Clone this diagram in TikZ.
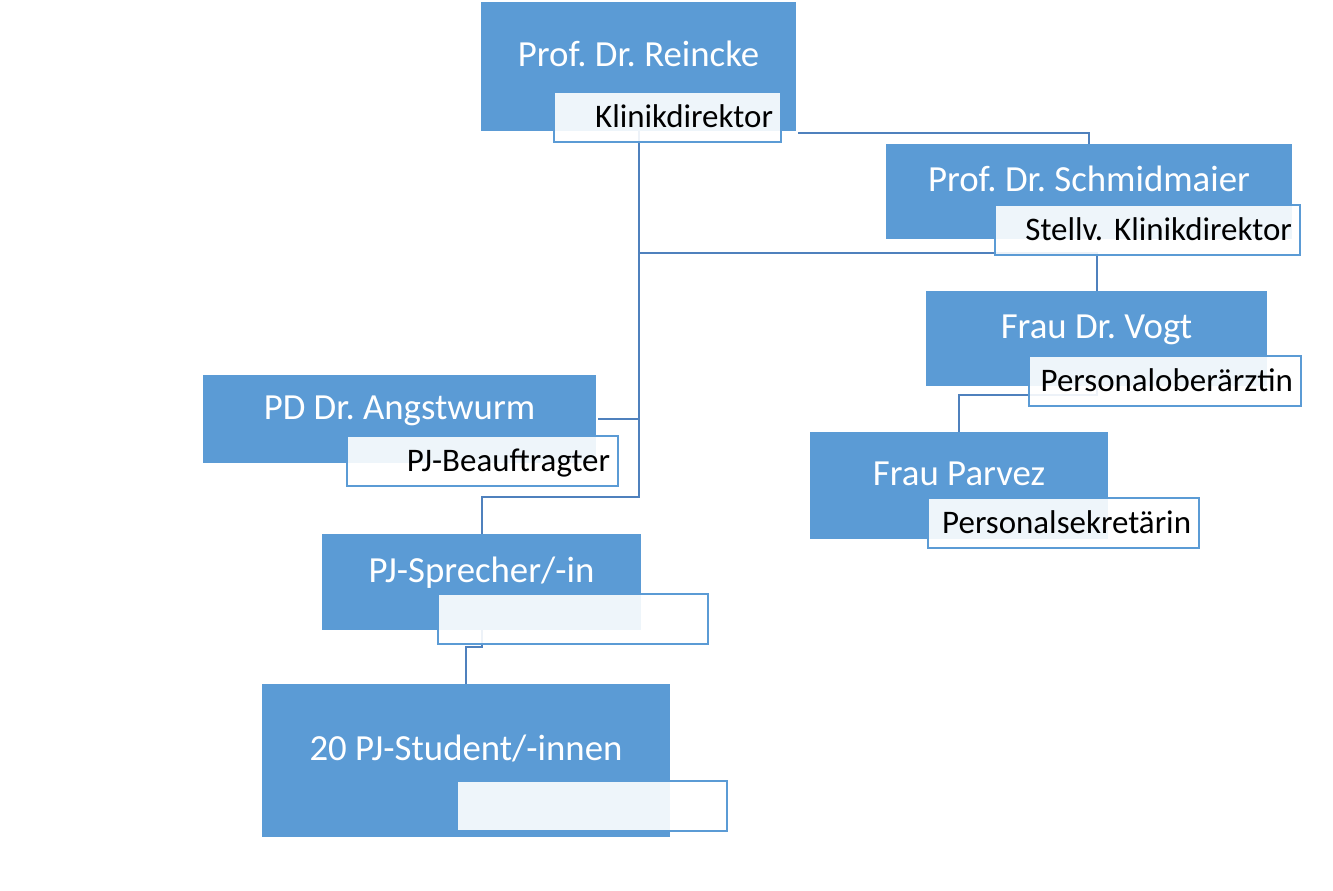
\documentclass[tikz,border=0pt]{standalone}
\usepackage{fontspec}
\setmainfont{Carlito}
\frenchspacing
\usetikzlibrary{calc}
\definecolor{boxblue}{HTML}{5B9BD5}
\definecolor{linkblue}{HTML}{4F81BD}
\begin{document}
\begin{tikzpicture}[x=0.75pt,y=-0.75pt]
  \tikzstyle{chef}=[rectangle,fill=boxblue,text=white,inner sep=0pt,font=\fontsize{27.6}{32}\selectfont,text height=10pt,text depth=10pt]
  \tikzstyle{rolle}=[rectangle,draw=boxblue,line width=1.5pt,fill=white,fill opacity=0.9,text opacity=1,text=black,inner xsep=6pt,inner ysep=0pt,align=right,font=\fontsize{24.7}{29}\selectfont,text height=17pt,text depth=2pt,minimum height=38pt]
  \tikzstyle{link}=[draw=linkblue,line width=1.5pt]
  \useasboundingbox (0,0) rectangle (1333,890);

  \foreach \name/\x/\y/\w/\h/\text in {R/638.5/66.5/315/129/{Prof. Dr. Reincke},
      S/1089/191.5/406/95/{Prof. Dr. Schmidmaier}, V/1096.5/338.5/341/95/{Frau Dr. Vogt},
      P/959/485.5/298/107/{Frau Parvez}, A/399.5/419/393/88/{PD Dr. Angstwurm},
      Sp/481.5/582/319/96/{PJ-Sprecher/-in}, St/466/760.5/408/153/{20 PJ-Student/-innen}}
    \node[chef,minimum width=\w*0.75pt,minimum height=\h*0.75pt] (\name) at (\x,\y) {\text};

  \coordinate (J-V) at (R.south |- 0,253);
  \coordinate (J-Sp) at (R.south |- 0,497);
  \draw[link] ([shift={(2,2)}]R.south east) -| (S.north);
  \draw[link] (R.south) -- (J-Sp) -| (Sp.north);
  \draw[link] (J-V) -| (V.north);
  \draw[link] ([xshift=1.5pt]A.east) -- (A.east -| R.south);
  \draw[link] (V.south) -- ++(0,9) -| (P.north);
  \draw[link] (Sp.south) -- ++(0,17) -| (St.north);

  \foreach \name/\x/\y/\w/\text in {R/667.5/117/227/Klinikdirektor,
      S/1147.5/230/305/{Stellv. Klinikdirektor}, V/1165/381/272/Personaloberärztin,
      P/1063.5/523/271/Personalsekretärin, A/482.5/461/271/PJ-Beauftragter,
      Sp/573/619/270/{}, St/592/806/270/{}}
    { \pgfmathsetmacro\tw{\w*0.75-12}
      \node[rolle,text width=\tw pt] (\name-l) at (\x,\y) {\text}; }
\end{tikzpicture}
\end{document}
